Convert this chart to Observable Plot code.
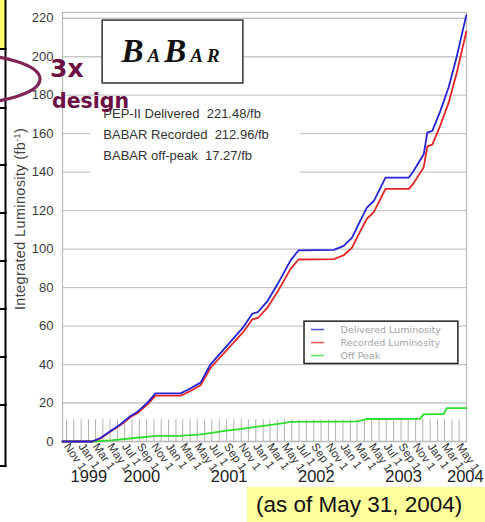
<!DOCTYPE html>
<html><head><meta charset="utf-8">
<script src="https://cdn.jsdelivr.net/npm/d3@7"></script>
<script src="https://cdn.jsdelivr.net/npm/@observablehq/plot@0.6"></script>
<style>
html,body{margin:0;padding:0;background:#fff;}
#wrap{position:relative;width:485px;height:522px;overflow:hidden;font-family:"Liberation Sans",Arial,sans-serif;}
#chart{position:absolute;left:0;top:0;}
#deco{position:absolute;left:0;top:0;pointer-events:none;}
#caption{position:absolute;left:247px;top:487px;width:238px;height:35px;background:#ffff9c;font-size:22.5px;line-height:35px;color:#111;padding-left:9px;box-sizing:border-box;white-space:nowrap;}
</style></head><body>
<div id="wrap"><div id="chart"></div><svg id="deco" width="485" height="522"></svg><div id="caption">(as of May 31, 2004)</div></div>
<script>
// ---- data ----
const seriesNames = ["Delivered Luminosity", "Recorded Luminosity", "Off Peak"];
const totalNames = ["PEP-II Delivered", "BABAR Recorded", "BABAR off-peak"];
const totals = [221.48, 212.96, 17.27];
const lumDates = ["1999-10-15","2000-02-17","2000-03-22","2000-05-03","2000-06-14","2000-07-26","2000-08-24","2000-10-05","2000-11-07","2001-02-20","2001-03-21","2001-05-15","2001-06-25","2001-11-10","2001-12-18","2002-01-10","2002-02-19","2002-04-02","2002-05-26","2002-06-29","2002-11-24","2003-01-04","2003-02-08","2003-03-14","2003-04-11","2003-05-10","2003-06-28","2003-10-04","2003-10-24","2003-12-05","2003-12-20","2004-01-10","2004-02-13","2004-03-18","2004-04-21","2004-05-31"];
const delivered = [0,0,1.8,5.5,9,13.3,15.5,20.2,25,25,26.8,30.6,40,59.5,66.5,67.3,73,81.7,94,99.4,99.6,101.7,106,114.7,121.6,125,137.2,137.2,140.7,149.3,160.6,161.5,172,184,200,221.5];
const recorded = [0,0,1.6,5.2,8.6,12.7,14.8,19.3,23.8,23.8,25.5,29.2,38.2,57.0,63.5,64.2,69.6,77.8,89.6,94.6,94.8,96.8,100.8,109.2,115.8,119.2,131.3,131.3,134.3,142.6,153.4,154.3,164.5,176,191.5,213];
const offDates = ["1999-10-15","2000-02-17","2000-05-03","2000-08-01","2000-11-10","2001-02-20","2001-05-15","2001-07-01","2001-08-25","2001-11-10","2002-02-02","2002-04-14","2002-05-26","2002-11-24","2003-03-03","2003-04-14","2003-11-21","2003-12-04","2004-02-26","2004-03-11","2004-05-31"];
const offPeak = [0,0,0.6,1.7,2.9,2.9,3.7,4.5,5.5,6.7,8.1,9.3,10.2,10.3,10.5,11.7,11.8,14.1,14.3,17.3,17.3];
const yTicks = [0,20,40,60,80,100,120,140,160,180,200,220];
const yearLabels = ["1999","2000","2001","2002","2003","2004"];
const xStart = "1999-10-15", xEnd = "2004-06-01", firstTick = "1999-11-01";

// ---- build ----
const parse = s => new Date(s + "T00:00:00Z");
const X0 = parse(xStart), X1 = parse(xEnd);
const colors = ["#2424d6", "#e42424", "#2fdc2f"];
const deliveredRows = lumDates.map((s, i) => ({date: parse(s), value: delivered[i]}));
const recordedRows = lumDates.map((s, i) => ({date: parse(s), value: recorded[i]}));
const offRows = offDates.map((s, i) => ({date: parse(s), value: offPeak[i]}));
const labelTicks = d3.utcMonth.every(2).range(parse(firstTick), X1);
const hashTicks = d3.utcMonth.range(parse(firstTick), X1);
const yearRows = yearLabels.map(y => {
  const a = Math.max(+parse(`${y}-01-01`), +X0), b = Math.min(+parse(`${+y + 1}-01-01`), +X1);
  return {label: y, date: new Date((a + b) / 2)};
});
const at = s => () => parse(s);

const chart = Plot.plot({
  width: 485, height: 522,
  marginLeft: 62, marginRight: 19, marginTop: 12, marginBottom: 81,
  style: {fontFamily: "Liberation Sans, Arial, sans-serif", background: "transparent", overflow: "visible"},
  x: {type: "utc", domain: [X0, X1]},
  y: {domain: [0, 223]},
  color: {type: "identity"},
  marks: [
    Plot.gridY(yTicks, {stroke: "#c6c6c6", strokeOpacity: 1, strokeWidth: 1.3}),
    Plot.ruleX(hashTicks, {y1: 0, y2: 11.3, stroke: "#b2b2b2", strokeWidth: 1}),
    Plot.frame({stroke: "#bcbcbc", strokeWidth: 1.3}),
    // BABAR logo box
    Plot.rect([0], {x1: at("2000-03-31"), x2: at("2001-11-10"), y1: 186.1, y2: 218.8, fill: "white", stroke: "#333", strokeWidth: 1.5}),
    // totals block background
    Plot.rect([0], {x1: at("2000-02-09"), x2: at("2002-07-07"), y1: 137.7, y2: 178, fill: "white"}),
    // legend box
    Plot.rect([0], {x1: at("2002-07-24"), x2: at("2004-04-28"), y1: 40.3, y2: 62.3, fill: "white", stroke: "#222", strokeWidth: 1.5}),
    Plot.line(offRows, {x: "date", y: "value", stroke: colors[2], strokeWidth: 1.8}),
    Plot.line(recordedRows, {x: "date", y: "value", stroke: colors[1], strokeWidth: 1.8}),
    Plot.line(deliveredRows, {x: "date", y: "value", stroke: colors[0], strokeWidth: 1.8}),
    Plot.text(["BaBar"], {x: at("2001-01-18"), y: () => 202.5, text: d => d, fontFamily: "Liberation Serif, serif", fontWeight: "bold", fontStyle: "italic", fontSize: 33, fill: "#111"}),
    Plot.text(totalNames, {x: at("2000-04-03"), y: (d, i) => 170.3 - i * 10.85, text: (d, i) => `${d}\u00a0 ${totals[i].toFixed(2)}/fb`, textAnchor: "start", fontSize: 13, fill: "#333"}),
    Plot.ruleY(seriesNames, {y: (d, i) => 58.2 - i * 6.75, x1: at("2002-08-22"), x2: at("2002-10-16"), stroke: (d, i) => colors[i], strokeWidth: 1.6, strokeOpacity: 0.75}),
    Plot.text(seriesNames, {x: at("2002-12-22"), y: (d, i) => 58.2 - i * 6.75, text: d => d, textAnchor: "start", fontFamily: "DejaVu Sans, sans-serif", fontSize: 9.5, fill: "#a4a4a4"}),
    Plot.axisY({ticks: yTicks, tickSize: 0, tickPadding: 9, fontSize: 13, fill: "#3a3a3a", label: null}),
    Plot.axisX({ticks: labelTicks, tickFormat: d3.utcFormat("%b %-d"), tickRotate: 55, tickSize: 0, tickPadding: 3, fontSize: 11.5, fill: "#333", label: null}),
    Plot.text(yearRows, {x: "date", text: "label", frameAnchor: "bottom", dy: 40, dx: 17, fontSize: 16.5, fill: "#222"})
  ]
});
document.getElementById("chart").appendChild(chart);

// logo with large B's and small caps
d3.select(chart).selectAll("text").filter(function () { return this.textContent === "BaBar"; }).each(function () {
  const t = d3.select(this).text(null).attr("letter-spacing", "4px");
  [["B", 33], ["A", 19], ["B", 33], ["A", 19], ["R", 19]].forEach(([c, s]) => t.append("tspan").attr("font-size", s).text(c));
});

// ---- slide decorations ----
const deco = d3.select("#deco");
deco.append("rect").attr("x", 0).attr("y", 0).attr("width", 5).attr("height", 49).attr("fill", "#ffff6a");
deco.append("line").attr("x1", 5.5).attr("x2", 5.5).attr("y1", 0).attr("y2", 467).attr("stroke", "#000").attr("stroke-width", 2);
[49, 108, 165, 213, 261, 309, 357, 405, 466].forEach(y =>
  deco.append("line").attr("x1", 0).attr("x2", 6.5).attr("y1", y).attr("y2", y).attr("stroke", "#000").attr("stroke-width", 2));
deco.append("text").attr("transform", "translate(25,219) rotate(-90)").attr("text-anchor", "middle")
  .attr("font-family", "Liberation Sans, Arial, sans-serif").attr("font-size", 14.5).attr("letter-spacing", "0.35px").attr("fill", "#444")
  .call(t => { t.append("tspan").text("Integrated Luminosity (fb"); t.append("tspan").attr("dy", -5).attr("font-size", 9).text("-1"); t.append("tspan").attr("dy", 5).text(")"); });
deco.append("ellipse").attr("cx", -42).attr("cy", 79).attr("rx", 82).attr("ry", 25).attr("fill", "none").attr("stroke", "#7e2356").attr("stroke-width", 3.2);
deco.append("text").attr("x", 50).attr("y", 77).attr("font-family", "Comic Sans MS, DejaVu Sans, sans-serif").attr("font-weight", "bold").attr("font-size", 25).attr("fill", "#6c0f44").text("3x");
deco.append("text").attr("x", 52).attr("y", 108).attr("font-family", "Comic Sans MS, DejaVu Sans, sans-serif").attr("font-weight", "bold").attr("font-size", 20.5).attr("fill", "#6c0f44").text("design");
</script>
</body></html>
